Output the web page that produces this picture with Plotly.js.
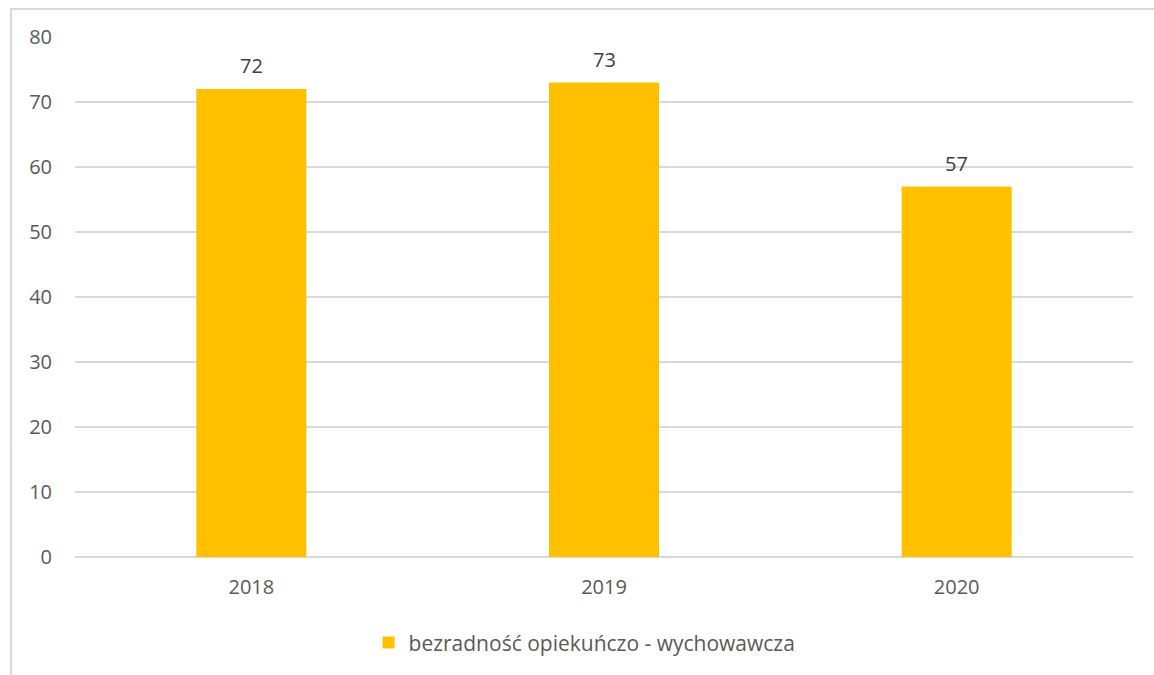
<!DOCTYPE html>
<html><head><meta charset="utf-8">
<script src="https://cdn.plot.ly/plotly-3.0.1.min.js"></script>
<style>
html,body{margin:0;padding:0;background:#fff;}
#frame{position:absolute;left:10px;top:8px;width:1200px;height:700px;border-top:2px solid #d9d9d9;border-left:2px solid #d9d9d9;box-sizing:border-box;pointer-events:none;z-index:5;}
#chart{position:absolute;left:0;top:0;width:1154px;height:675px;}
</style></head>
<body>
<div id="chart"></div>
<div id="frame"></div>
<script>
const categories = ['2018', '2019', '2020'];
const values = [72, 73, 57];
const seriesName = 'bezradność opiekuńczo - wychowawcza';
const yTicks = [0, 10, 20, 30, 40, 50, 60, 70, 80];

const font = 'Open Sans, Lato, sans-serif';
const labels = categories.map((c, i) => ({
  x: i, y: values[i], xref: 'x', yref: 'y', text: String(values[i]),
  showarrow: false, yanchor: 'bottom', yshift: 8,
  font: {family: font, size: 20, color: '#404040'}
}));
Plotly.newPlot('chart', [{
  type: 'bar',
  x: categories,
  y: values,
  name: seriesName,
  marker: {color: '#FFC000'},
  hoverinfo: 'none'
}], {
  width: 1154, height: 675,
  margin: {l: 75, r: 21, t: 37, b: 118},
  paper_bgcolor: '#ffffff', plot_bgcolor: '#ffffff',
  bargap: 0.688,
  showlegend: true,
  annotations: labels,
  legend: {orientation: 'h', x: 0.4816, xanchor: 'center', y: -0.165, yanchor: 'middle',
           font: {family: font, size: 21, color: '#595959'}, itemwidth: 30},
  xaxis: {type: 'category', range: [-0.5, categories.length - 0.5], autorange: false,
          showgrid: false, zeroline: false, showline: false, ticks: '',
          tickfont: {family: font, size: 20, color: '#595959'}, ticklabelstandoff: 16},
  yaxis: {range: [0, 80], tickvals: yTicks, showgrid: true, gridcolor: '#d9d9d9', gridwidth: 1.5,
          zeroline: true, zerolinecolor: '#d9d9d9', zerolinewidth: 1.5, showline: false, ticks: '',
          tickfont: {family: font, size: 20, color: '#595959'}, ticklabelstandoff: 22}
}, {displayModeBar: false, staticPlot: true});
</script>
</body></html>
